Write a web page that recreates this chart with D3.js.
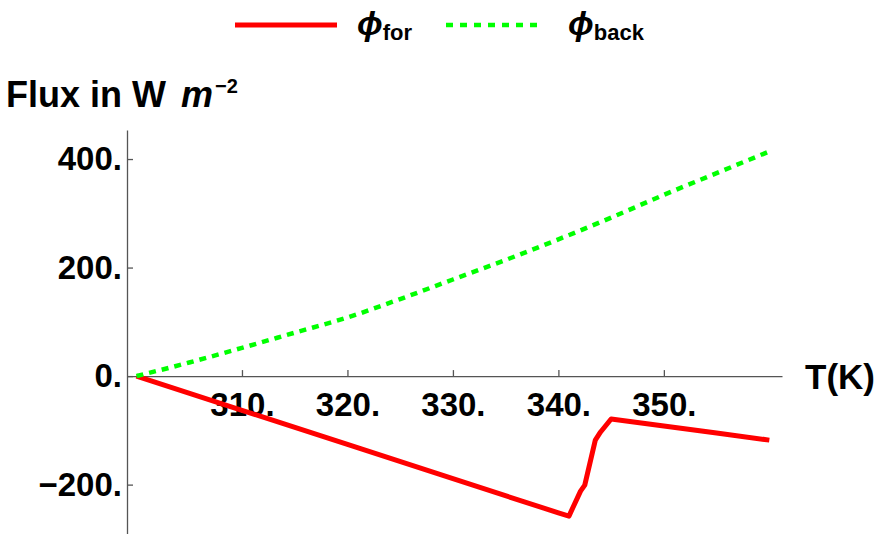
<!DOCTYPE html>
<html>
<head>
<meta charset="utf-8">
<script src="https://cdn.jsdelivr.net/npm/d3@7"></script>
<style>
  body { margin: 0; background: #fff; }
  text { font-family: "Liberation Sans", Arial, sans-serif; font-weight: bold; }
</style>
</head>
<body>
<svg id="chart" width="877" height="534"></svg>
<script>
// values
const tempsBack = [300, 305, 310, 315, 320, 325, 330, 335, 340, 345, 350, 355, 360];
const fluxBack = [0, 25, 52, 80, 108, 142, 178, 214, 252, 292, 334, 374, 414];

const tempsFor = [300, 310, 320, 330, 340, 341, 342.1, 342.5, 343.5, 344, 345, 350, 355, 360];
const fluxFor = [0, -63, -126, -189, -252, -258, -212, -201, -118, -103, -79, -92, -105, -118];

const xTicks = [310, 320, 330, 340, 350];
const yTicks = [-200, 0, 200, 400];

const svg = d3.select("#chart");

// scales
const x = d3.scaleLinear().domain([299.1, 361.2]).range([127, 782]);
const y = d3.scaleLinear().domain([-291, 453.5]).range([534, 130]);

const fmt = (d) => (d < 0 ? "\u2212" + Math.abs(d) : d) + ".";

// x axis through zero
const gx = svg
  .append("g")
  .attr("transform", "translate(0," + y(0) + ")")
  .call(
    d3.axisBottom(x)
      .tickValues(xTicks)
      .tickFormat(fmt)
      .tickSizeInner(-6)
      .tickSizeOuter(0)
      .tickPadding(16)
  );

// y axis
const gy = svg
  .append("g")
  .attr("transform", "translate(" + x.range()[0] + ",0)")
  .call(
    d3.axisLeft(y)
      .tickValues(yTicks)
      .tickFormat(fmt)
      .tickSizeInner(-6)
      .tickSizeOuter(0)
      .tickPadding(5)
  );

[gx, gy].forEach((g) => {
  g.select(".domain").attr("stroke", "#555").attr("stroke-width", 1.3);
  g.selectAll(".tick line").attr("stroke", "#555").attr("stroke-width", 1.3);
  g.selectAll(".tick text")
    .attr("fill", "#000")
    .style("font-size", "33px")
    .style("font-family", "'Liberation Sans', Arial, sans-serif")
    .style("font-weight", "bold");
});

// lines
const lineBack = d3.line()
  .x((d, i) => x(tempsBack[i]))
  .y((d) => y(d))
  .curve(d3.curveMonotoneX);

const lineFor = d3.line()
  .x((d, i) => x(tempsFor[i]))
  .y((d) => y(d));

svg.append("path")
  .datum(fluxFor)
  .attr("fill", "none")
  .attr("stroke", "#ff0000")
  .attr("stroke-width", 5)
  .attr("stroke-linejoin", "round")
  .attr("d", lineFor);

svg.append("path")
  .datum(fluxBack)
  .attr("fill", "none")
  .attr("stroke", "#00ff00")
  .attr("stroke-width", 4.5)
  .attr("stroke-dasharray", "7,6")
  .attr("d", lineBack);

// axis labels
svg.append("text")
  .attr("x", 805)
  .attr("y", 389)
  .style("font-size", "35px")
  .text("T(K)");

const yl = svg.append("text")
  .attr("x", 6)
  .attr("y", 107)
  .style("font-size", "36px");
yl.append("tspan").text("Flux in W");
yl.append("tspan").attr("x", 181).style("font-style", "italic").text("m");
yl.append("tspan").attr("x", 215).attr("dy", -14).style("font-size", "20px").text("\u22122");

// legend
const legend = [
  { name: "for", color: "#ff0000", dash: null, width: 5, x1: 235, x2: 337, tx: 357 },
  { name: "back", color: "#00ff00", dash: "7,7", width: 4.5, x1: 446, x2: 542, tx: 568 },
];

const lg = svg.append("g");
legend.forEach((d) => {
  lg.append("line")
    .attr("x1", d.x1)
    .attr("x2", d.x2)
    .attr("y1", 25)
    .attr("y2", 25)
    .attr("stroke", d.color)
    .attr("stroke-width", d.width)
    .attr("stroke-dasharray", d.dash);
  const t = lg.append("text").attr("x", d.tx).attr("y", 35).style("font-size", "34px");
  t.append("tspan").style("font-style", "italic").text("\u03d5");
  t.append("tspan").attr("dy", 5).style("font-size", "22px").text(d.name);
});
</script>
</body>
</html>
